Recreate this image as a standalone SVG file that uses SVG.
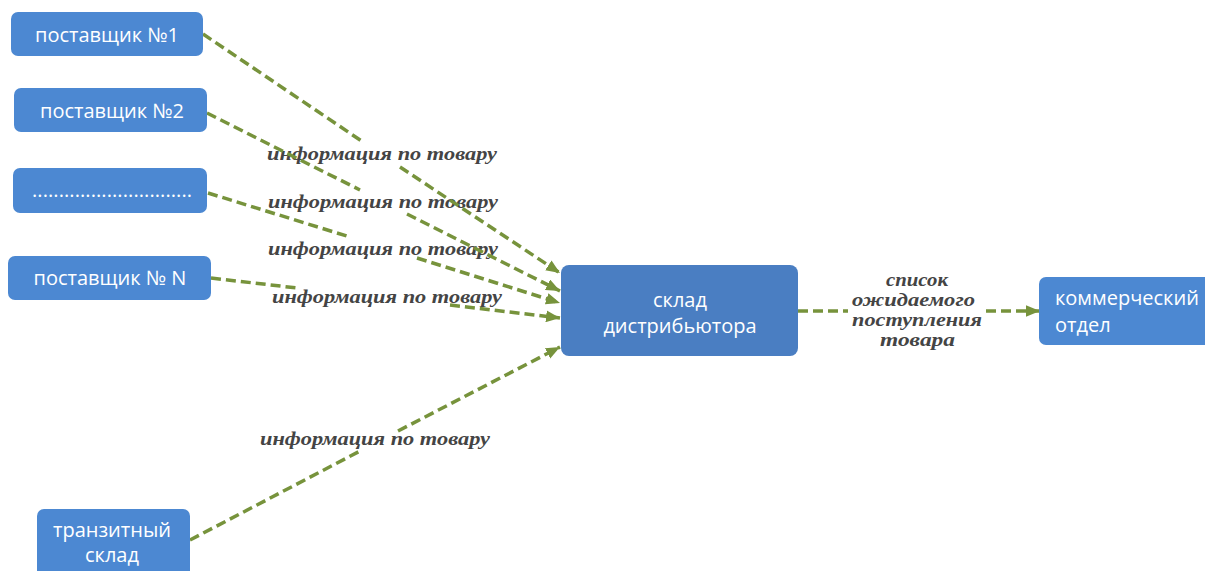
<svg xmlns="http://www.w3.org/2000/svg" width="1205" height="571" viewBox="0 0 1205 571">
  <style>
    .box { fill: #4C88D2; }
    .hub { fill: #4A7EC2; }
    .nt { font-family: "Open Sans", "Noto Sans", sans-serif; font-size: 20px; font-weight: 500; fill: #ffffff; }
    .lbl { font-family: "Liberation Serif", "DejaVu Serif", serif; font-style: italic; font-weight: bold; font-size: 19px; fill: #444444; }
    .flow { fill: none; stroke: #77933C; stroke-width: 3.5; stroke-dasharray: 10 5; }
  </style>
  <defs>
    <marker id="arrow" viewBox="0 0 12 10" refX="12" refY="5" markerWidth="14" markerHeight="12" markerUnits="userSpaceOnUse" orient="auto">
      <path d="M0,0 L12,5 L0,10 Z" fill="#77933C"/>
    </marker>
  </defs>
  <rect width="1205" height="571" fill="#ffffff"/>

  <!-- connector labels (each line is interrupted where its own label sits) -->
  <g id="labels">
    <text class="lbl" x="267" y="160" textLength="230" lengthAdjust="spacingAndGlyphs">информация по товару</text>
    <text class="lbl" x="268" y="208" textLength="230" lengthAdjust="spacingAndGlyphs">информация по товару</text>
    <text class="lbl" x="268" y="255" textLength="230" lengthAdjust="spacingAndGlyphs">информация по товару</text>
    <text class="lbl" x="272" y="303" textLength="230" lengthAdjust="spacingAndGlyphs">информация по товару</text>
    <text class="lbl" x="260" y="445" textLength="230" lengthAdjust="spacingAndGlyphs">информация по товару</text>
    <text class="lbl" x="886" y="286" textLength="62" lengthAdjust="spacingAndGlyphs">список</text>
    <text class="lbl" x="852" y="306" textLength="123" lengthAdjust="spacingAndGlyphs">ожидаемого</text>
    <text class="lbl" x="852" y="326" textLength="130" lengthAdjust="spacingAndGlyphs">поступления</text>
    <text class="lbl" x="880" y="346" textLength="75" lengthAdjust="spacingAndGlyphs">товара</text>
  </g>

  <g id="connectors">
    <path class="flow" d="M203,34 L363,142"/>
    <path class="flow" d="M400,167 L560,273" marker-end="url(#arrow)"/>
    <path class="flow" d="M207,113 L360,190"/>
    <path class="flow" d="M407,214 L560,291" marker-end="url(#arrow)"/>
    <path class="flow" d="M208,193 L350,237"/>
    <path class="flow" d="M417,258 L560,303" marker-end="url(#arrow)"/>
    <path class="flow" d="M211,278 L297,288"/>
    <path class="flow" d="M450,305 L560,318" marker-end="url(#arrow)"/>
    <path class="flow" d="M190,540 L362,450"/>
    <path class="flow" d="M398,431 L560,347" marker-end="url(#arrow)"/>
    <path class="flow" d="M798,311 L848,311"/>
    <path class="flow" d="M986,311 L1040,311" marker-end="url(#arrow)"/>
  </g>

  <g id="supplier-1">
    <rect class="box" x="11" y="12" width="192" height="44" rx="7"/>
    <text class="nt" x="107" y="42" text-anchor="middle">поставщик №1</text>
  </g>
  <g id="supplier-2">
    <rect class="box" x="14" y="88" width="193" height="44" rx="7"/>
    <text class="nt" x="112" y="118" text-anchor="middle">поставщик №2</text>
  </g>
  <g id="supplier-more">
    <rect class="box" x="13" y="168" width="194" height="45" rx="7"/>
    <text class="nt" x="32" y="197" textLength="160" lengthAdjust="spacing">..............................</text>
  </g>
  <g id="supplier-n">
    <rect class="box" x="8" y="256" width="203" height="44" rx="7"/>
    <text class="nt" x="110" y="285" text-anchor="middle">поставщик № N</text>
  </g>
  <g id="transit-warehouse">
    <rect class="box" x="37" y="509" width="153" height="80" rx="7"/>
    <text class="nt" x="112" y="537" text-anchor="middle">транзитный</text>
    <text class="nt" x="112" y="562" text-anchor="middle">склад</text>
  </g>
  <g id="distributor-warehouse">
    <rect class="hub" x="561" y="265" width="237" height="91" rx="8"/>
    <text class="nt" x="680" y="307" text-anchor="middle">склад</text>
    <text class="nt" x="680" y="333" text-anchor="middle">дистрибьютора</text>
  </g>
  <g id="commercial-dept">
    <rect class="box" x="1039" y="277" width="180" height="68" rx="7"/>
    <text class="nt" x="1055" y="305">коммерческий</text>
    <text class="nt" x="1055" y="332">отдел</text>
  </g>
</svg>
